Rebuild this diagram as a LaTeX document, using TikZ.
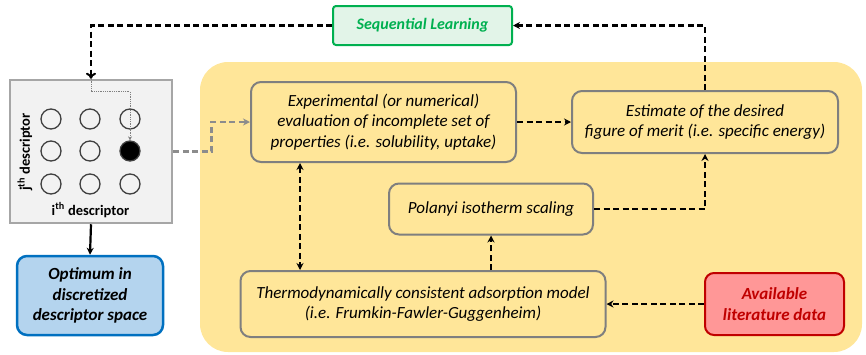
\documentclass[tikz,border=0pt]{standalone}
\usepackage{fontspec}
\setmainfont{Carlito}
\usetikzlibrary{arrows.meta}
\definecolor{bgyellow}{HTML}{FFE699}
\definecolor{boxgray}{HTML}{7F7F7F}
\definecolor{gridgray}{HTML}{A6A6A6}
\definecolor{gridfill}{HTML}{F2F2F2}
\definecolor{slgreen}{HTML}{00B050}
\definecolor{slfill}{HTML}{E2F4E8}
\definecolor{optblue}{HTML}{0070C0}
\definecolor{optfill}{HTML}{B4D4EE}
\definecolor{avred}{HTML}{C00000}
\definecolor{avfill}{HTML}{FF9797}
\definecolor{circgray}{HTML}{404040}
\definecolor{dashgray}{HTML}{8C8C8C}
\tikzset{
  ybox/.style={draw=boxgray, line width=2pt, fill=bgyellow, rounded corners=10pt, align=center,
    font=\fontsize{17}{20.5}\selectfont\itshape, inner sep=0pt},
  dline/.style={draw=black, line width=2.2pt, dash pattern=on 6pt off 3.5pt},
  gline/.style={draw=dashgray, line width=2.5pt, dash pattern=on 6pt off 3.5pt},
  tip/.style={-{Stealth[length=7pt,width=7pt]}},
  dot/.style={circle, draw=circgray, line width=1.3pt, minimum size=20pt, inner sep=0pt},
}
\begin{document}
\begin{tikzpicture}[x=1pt,y=-1pt]
\useasboundingbox (0,0) rectangle (866,354);
\fill[bgyellow, rounded corners=28pt] (200,62) rectangle (862,352);

% grid box
\node[draw=gridgray, fill=gridfill, line width=2.5pt, minimum width=162pt, minimum height=143pt, inner sep=0pt] (grid) at (91,151.5) {};
\node[dot] (c11) at (51,119) {};
\node[dot] (c12) at (90,119) {};
\node[dot] (c13) at (130,119) {};
\node[dot] (c21) at (51,151) {};
\node[dot] (c22) at (90,151) {};
\node[dot, fill=black] (c23) at (130,151) {};
\node[dot] (c31) at (51,184) {};
\node[dot] (c32) at (90,184) {};
\node[dot] (c33) at (130,184) {};
\node[rotate=90, font=\fontsize{14.5}{16}\selectfont\bfseries, inner sep=0pt] (jlab) at (25,152) {j\textsuperscript{th} descriptor};
\node[font=\fontsize{14.5}{16}\selectfont\bfseries, inner sep=0pt] (ilab) at (90.5,210) {i\textsuperscript{th} descriptor};

% boxes
\node[draw=slgreen, fill=slfill, line width=2pt, rounded corners=3pt, minimum width=179pt, minimum height=39pt, inner sep=0pt,
  text=slgreen, font=\fontsize{16}{18}\selectfont\bfseries\itshape] (sl) at (422.5,25.5) {Sequential Learning};
\node[ybox, minimum width=265pt, minimum height=80pt] (exp) at (383.5,122) {Experimental (or numerical)\\evaluation of incomplete set of\\properties (i.e. solubility, uptake)};
\node[ybox, minimum width=266pt, minimum height=62pt] (est) at (705,122) {Estimate of the desired\\figure of merit (i.e. specific energy)};
\node[ybox, minimum width=204pt, minimum height=51pt] (pol) at (491,209) {Polanyi isotherm scaling};
\node[ybox, minimum width=365pt, minimum height=66pt] (thermo) at (423,304) {Thermodynamically consistent adsorption model\\(i.e. Frumkin-Fawler-Guggenheim)};
\node[draw=avred, fill=avfill, line width=2pt, rounded corners=9pt, minimum width=139pt, minimum height=62pt, inner sep=0pt, align=center,
  text=avred, font=\fontsize{17}{20.5}\selectfont\bfseries\itshape] (av) at (774.5,304) {Available\\literature data};
\node[draw=optblue, fill=optfill, line width=2.5pt, rounded corners=10pt, minimum width=146pt, minimum height=79pt, inner sep=0pt, align=center,
  font=\fontsize{17}{20.5}\selectfont\bfseries\itshape] (opt) at (90,295.5) {Optimum in\\discretized\\descriptor space};

\coordinate (x300) at (300,0);

% connectors
\draw[dline, -{To[length=6pt,width=10pt,line width=2pt]}] (sl.west) -| (grid.north);
\draw[dline, tip] (est.north) |- (sl.east);
\draw[line width=2.2pt, tip] (grid.south) -- (opt.north);
\draw[gline, -{Stealth[length=7pt,width=7pt]}] (grid.east) -- ++(38,0) |- (exp.west);
\draw[dline, tip] (exp.east) -- (est.west);
\draw[dline, {Stealth[length=7pt,width=7pt]}-{Stealth[length=7pt,width=7pt]}] (exp.south -| x300) -- (thermo.north -| x300);
\draw[dline, tip] (thermo.north -| pol.south) -- (pol.south);
\draw[dline, tip] (pol.east) -| (est.south);
\draw[dline, tip] (av.west) -- (thermo.east);
\draw[draw=gray, line width=0.8pt, densely dotted, -{Stealth[length=4pt,width=4pt]}] (grid.north) -- ++(0,13) -| (c23.north);
\end{tikzpicture}
\end{document}
